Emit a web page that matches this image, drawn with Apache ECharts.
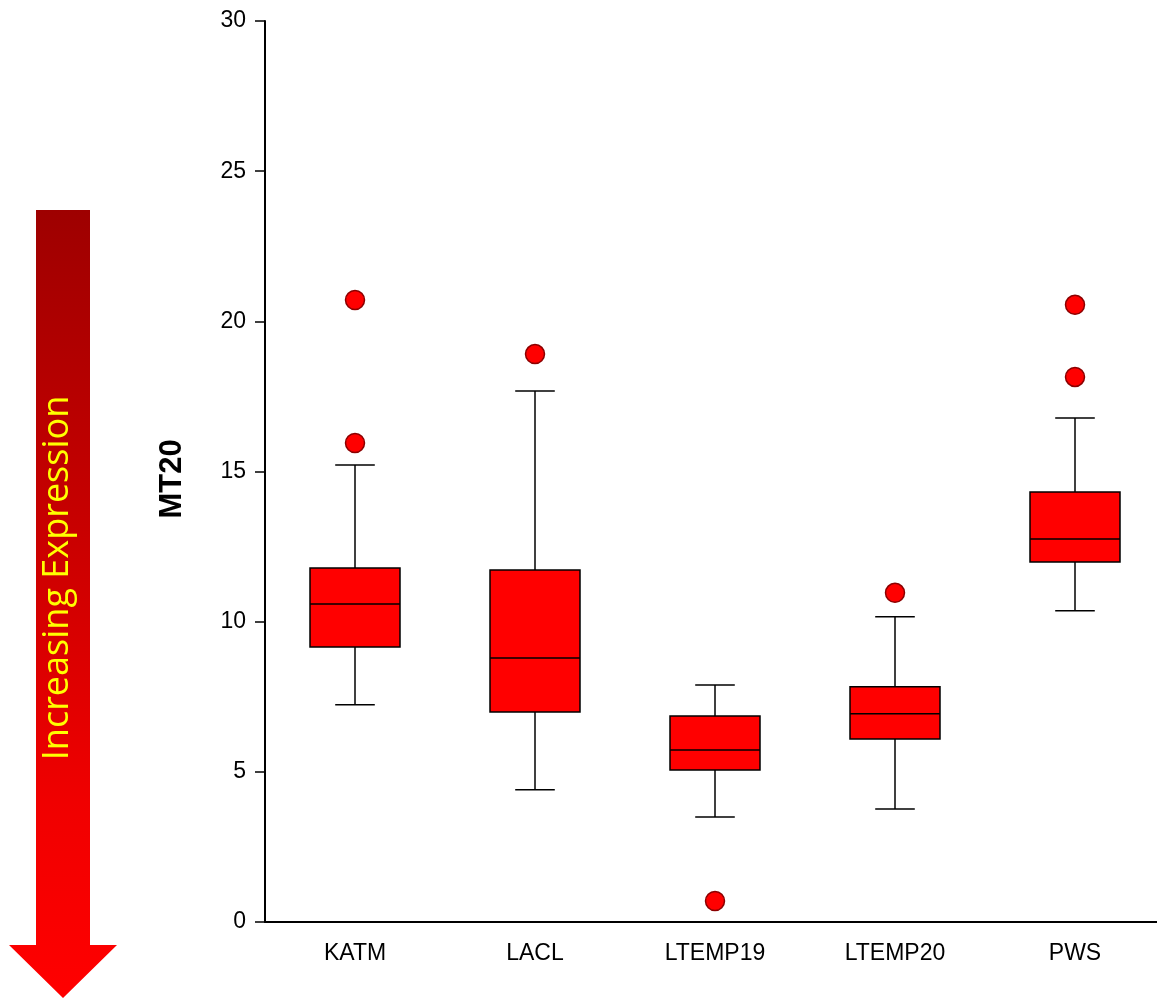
<!DOCTYPE html>
<html>
<head>
<meta charset="utf-8">
<script src="https://cdn.jsdelivr.net/npm/echarts@6/dist/echarts.min.js"></script>
<style>
  html, body { margin: 0; padding: 0; background: #fff; overflow: hidden; }
  #chart { width: 1165px; height: 998px; }
</style>
</head>
<body>
<div id="chart"></div>
<script>
// 各站点 MT20 表达量箱线图
const categories = ['KATM', 'LACL', 'LTEMP19', 'LTEMP20', 'PWS']
const lowWhisker = [7.23, 4.40, 3.50, 3.76, 10.36]
const q1Values = [9.16, 6.99, 5.06, 6.09, 11.99]
const medianValues = [10.59, 8.79, 5.73, 6.93, 12.75]
const q3Values = [11.79, 11.72, 6.86, 7.83, 14.32]
const highWhisker = [15.22, 17.68, 7.89, 10.16, 16.78]
const outliers = [
  ['KATM', 20.71], ['KATM', 15.95],
  ['LACL', 18.91],
  ['LTEMP19', 0.70],
  ['LTEMP20', 10.96],
  ['PWS', 20.55], ['PWS', 18.15]
]
const yTicks = { min: 0, max: 30, interval: 5 }

const boxData = categories.map((c, i) => [i, lowWhisker[i], q1Values[i], medianValues[i], q3Values[i], highWhisker[i]])

function renderBox (params, api) {
  const i = api.value(0)
  const x = api.coord([i, 0])[0]
  const y = v => api.coord([i, api.value(v)])[1]
  const bandW = api.size([1, 0])[0]
  const boxW = bandW * 0.5
  const capW = bandW * 0.22
  const lineStyle = { stroke: '#000', lineWidth: 1.5 }
  return {
    type: 'group',
    children: [
      { type: 'line', shape: { x1: x, y1: y(1), x2: x, y2: y(2) }, style: lineStyle },
      { type: 'line', shape: { x1: x, y1: y(4), x2: x, y2: y(5) }, style: lineStyle },
      { type: 'line', shape: { x1: x - capW / 2, y1: y(1), x2: x + capW / 2, y2: y(1) }, style: lineStyle },
      { type: 'line', shape: { x1: x - capW / 2, y1: y(5), x2: x + capW / 2, y2: y(5) }, style: lineStyle },
      { type: 'rect', shape: { x: x - boxW / 2, y: y(4), width: boxW, height: y(2) - y(4) }, style: { fill: '#ff0000', stroke: '#000', lineWidth: 1.5 } },
      { type: 'line', shape: { x1: x - boxW / 2, y1: y(3), x2: x + boxW / 2, y2: y(3) }, style: lineStyle }
    ]
  }
}

const chart = echarts.init(document.getElementById('chart'))
chart.setOption({
  animation: false,
  backgroundColor: '#fff',
  textStyle: { fontFamily: 'Liberation Sans' },
  grid: { left: 265, top: 21, width: 900, bottom: 76 },
  xAxis: {
    type: 'category',
    data: categories,
    axisLine: { lineStyle: { color: '#000', width: 2 } },
    axisTick: { alignWithLabel: true, length: 10, lineStyle: { color: '#000', width: 1.5 } },
    axisLabel: { color: '#000', fontSize: 23, margin: 20 },
    splitLine: { show: false }
  },
  yAxis: {
    type: 'value',
    min: yTicks.min,
    max: yTicks.max,
    interval: yTicks.interval,
    axisLine: { show: true, lineStyle: { color: '#000', width: 2 } },
    axisTick: { show: true, length: 10, lineStyle: { color: '#000', width: 1.5 } },
    axisLabel: { color: '#000', fontSize: 23, margin: 19 },
    splitLine: { show: false }
  },
  series: [
    {
      type: 'custom',
      renderItem: renderBox,
      encode: { x: 0, y: [1, 2, 3, 4, 5] },
      data: boxData,
      z: 2
    },
    {
      type: 'scatter',
      data: outliers,
      symbolSize: 19,
      itemStyle: { color: '#ff0000', opacity: 1, borderColor: '#8b0000', borderWidth: 1.5 },
      z: 3
    }
  ],
  graphic: [
    {
      type: 'polygon',
      shape: {
        points: [[36, 210], [90, 210], [90, 945], [117, 945], [63, 998], [9, 945], [36, 945]]
      },
      style: {
        fill: new echarts.graphic.LinearGradient(0, 0, 0, 1, [
          { offset: 0, color: '#9e0000' },
          { offset: 0.4, color: '#c80000' },
          { offset: 0.75, color: '#f00000' },
          { offset: 1, color: '#ff0000' }
        ])
      }
    },
    {
      type: 'text',
      x: 58,
      y: 578,
      rotation: Math.PI / 2,
      style: {
        text: 'Increasing Expression',
        fill: '#ffff00',
        font: '36px "Open Sans"',
        align: 'center',
        verticalAlign: 'middle'
      }
    },
    {
      type: 'text',
      x: 172,
      y: 479,
      rotation: Math.PI / 2,
      style: {
        text: 'MT20',
        fill: '#000',
        font: 'bold 31px "Liberation Sans"',
        align: 'center',
        verticalAlign: 'middle'
      }
    }
  ]
})
</script>
</body>
</html>
